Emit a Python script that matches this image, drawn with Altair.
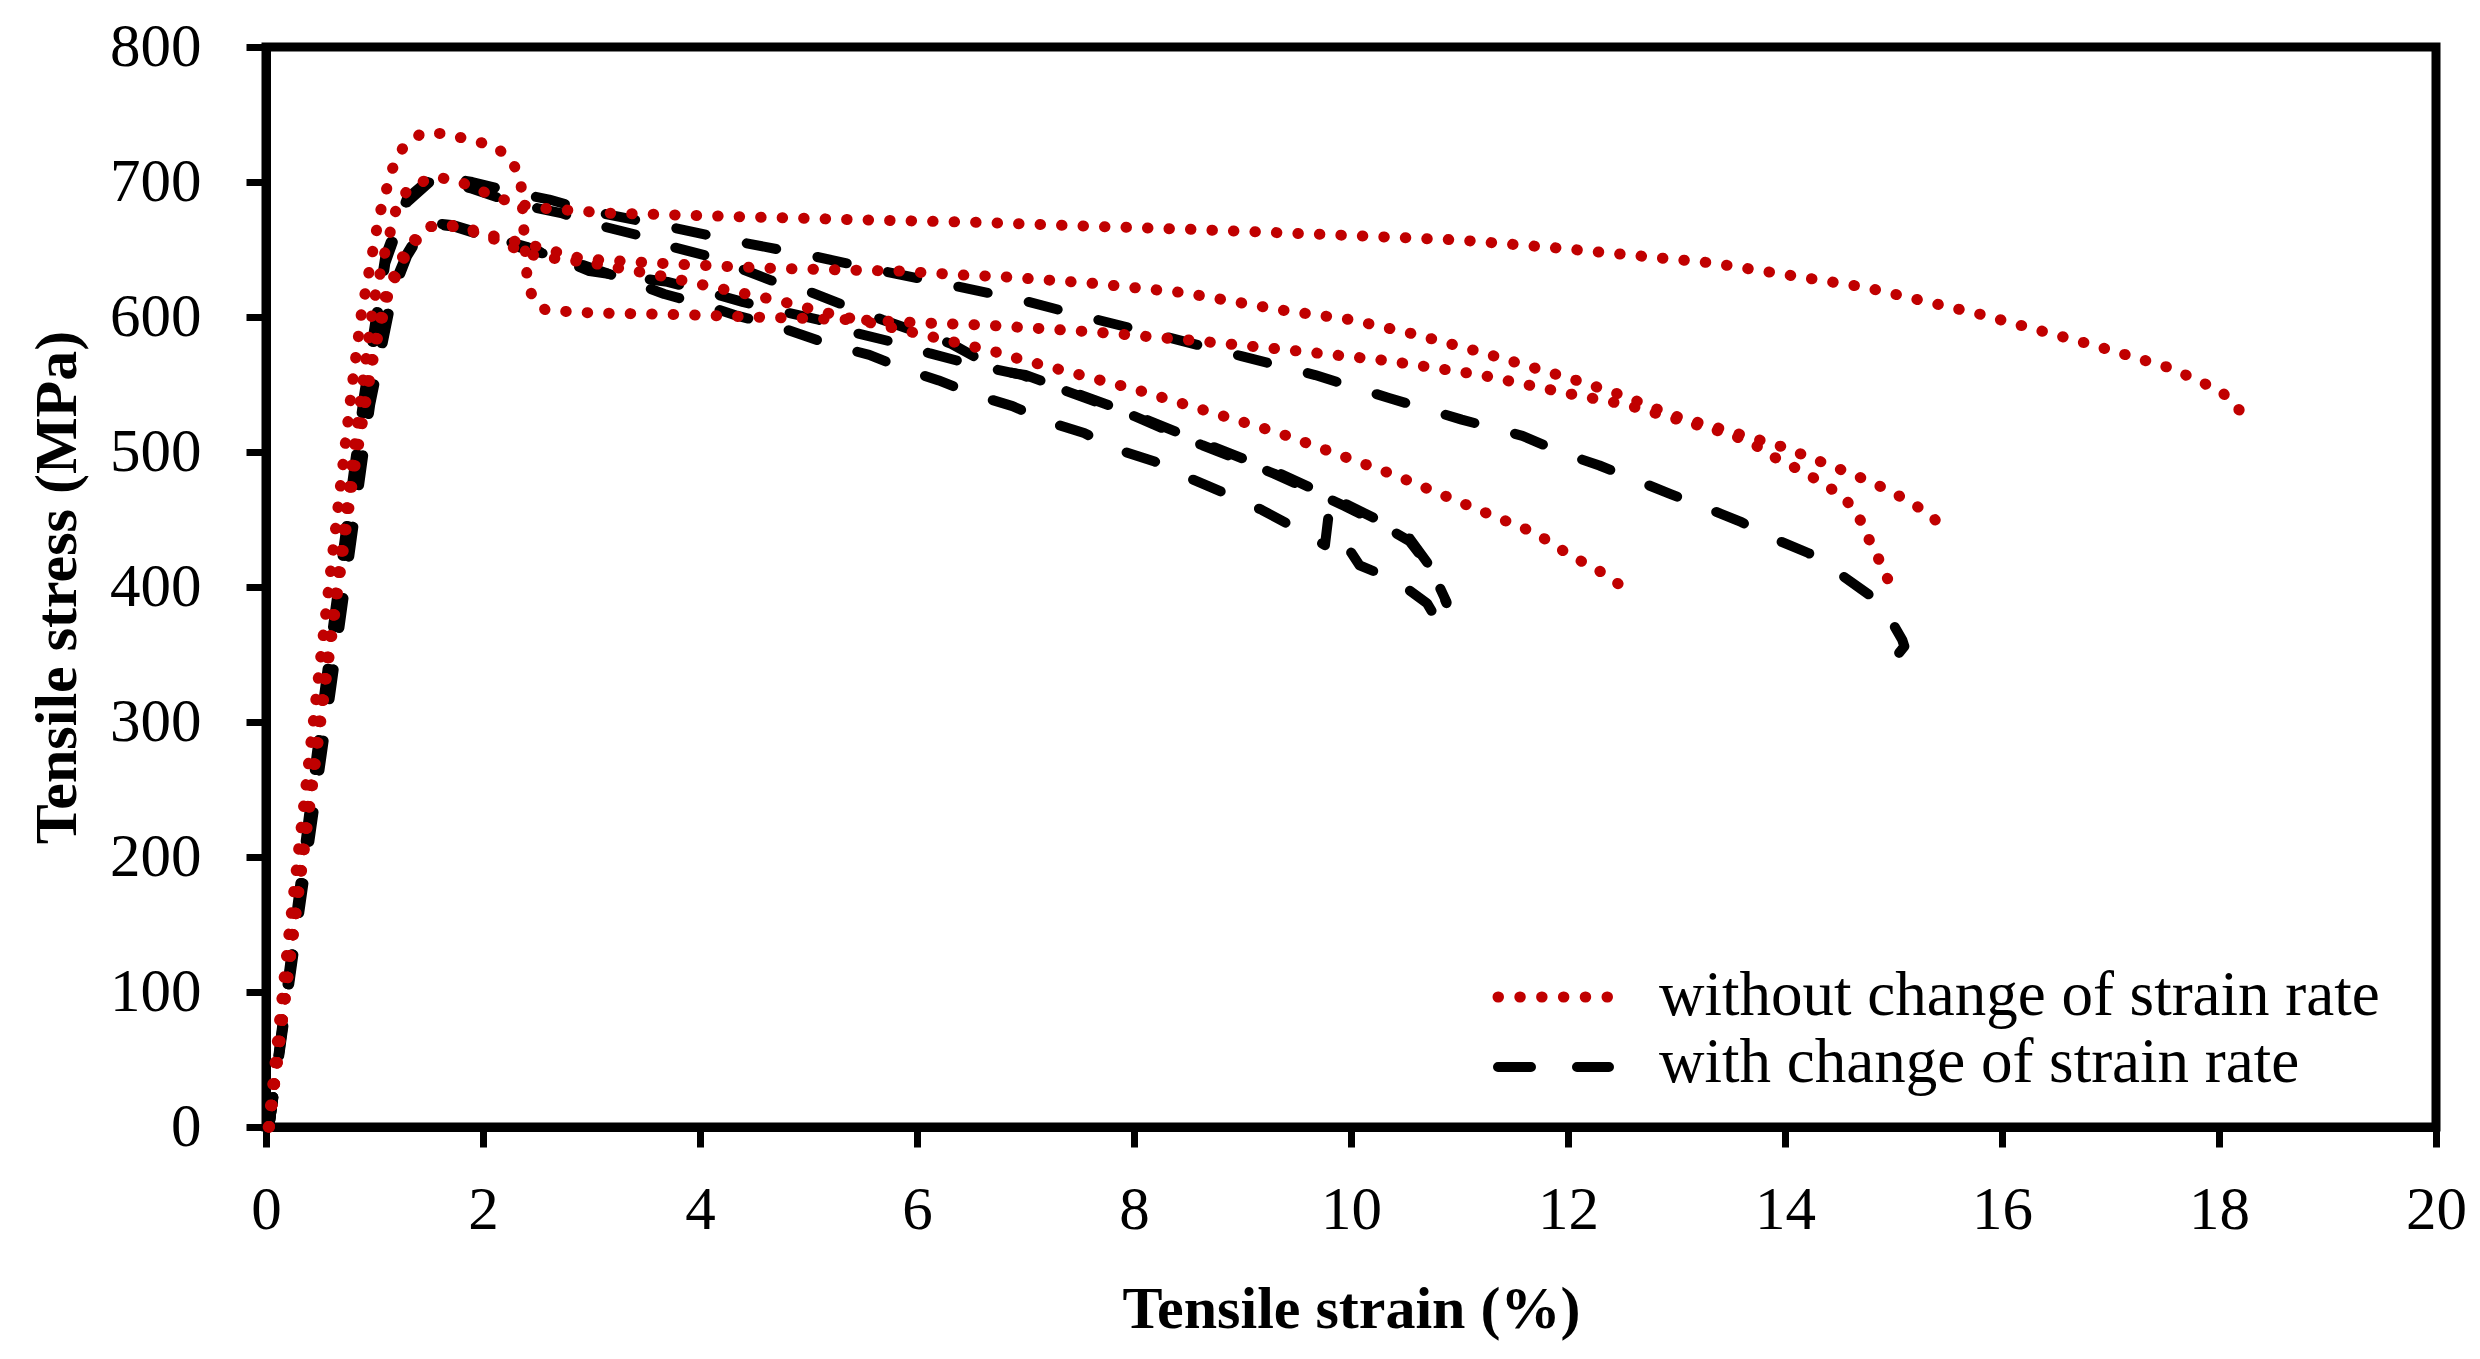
import altair as alt
import pandas as pd

# ---------------- data ----------------
# "without change of strain rate" (red dotted)
R1_x = [0.03, 0.2, 0.4, 0.6, 0.8, 0.9, 0.99, 1.09, 1.2, 1.31, 1.54, 1.76, 1.94, 2.14, 2.47, 3.14, 4.5, 5.5,
        6.62, 7.69, 8.5, 9.8, 11.0, 11.92, 13.33, 14.74, 15.8, 16.85, 17.56, 18.02, 18.2]
R1_y = [0, 110, 240, 365, 495, 556, 610, 646, 680, 695, 704, 701, 695, 688, 681, 677, 674, 672,
        670, 667, 665, 661, 657, 651, 640, 622, 602, 579, 562, 545, 530]

R2_x = [0.02, 0.2, 0.4, 0.6, 0.79, 0.88, 0.96, 1.04, 1.16, 1.26, 1.43, 1.66, 1.88, 2.1, 2.27, 2.35, 2.38,
        2.41, 2.47, 2.58, 3.0, 3.72, 4.5, 5.4, 6.25, 6.63, 7.61, 8.5, 9.37, 10.3, 11.2, 12.08, 12.54,
        12.97, 13.46, 13.69, 13.88, 14.2, 14.54, 14.68, 14.77, 14.88, 14.99]
R2_y = [0, 135, 275, 415, 547, 603, 638, 674, 709, 725, 736, 736, 731, 727, 716, 699, 660,
        625, 612, 605, 603, 602, 600, 598, 595, 594, 589, 583, 576, 568, 557, 542, 535,
        525, 514, 507, 497, 484, 467, 452, 436, 418, 398]

R3_x = [0.03, 0.2, 0.4, 0.6, 0.8, 1.0, 1.1, 1.22, 1.31, 1.5, 1.77, 1.98, 2.2, 2.38, 2.6, 3.0, 3.67, 4.13,
        4.73, 5.12, 5.61, 6.05, 6.73, 6.94, 8.03, 9.34, 10.4, 11.24, 11.7, 12.05, 12.25, 12.47]
R3_y = [0, 115, 245, 370, 490, 580, 615, 634, 650, 667, 667, 661, 655, 647, 644, 640, 630, 622,
        612, 604, 595, 587, 574, 569, 546, 514, 483, 455, 440, 422, 414, 402]

R4_x = [0.03, 0.2, 0.4, 0.6, 0.8, 1.0, 1.15, 1.3, 1.5, 1.77, 2.0, 2.2, 2.5, 2.92, 3.8, 4.68, 5.84, 6.44,
        6.76, 7.61, 8.46, 9.37, 10.0, 10.6, 11.24, 12.08, 12.5, 12.97, 13.46, 13.97, 14.26, 14.64,
        14.95, 15.13, 15.29, 15.5]
R4_y = [0, 110, 235, 360, 480, 575, 625, 652, 667, 668, 662, 658, 652, 643, 639, 636, 634, 631,
        630, 625, 618, 605, 598, 587, 573, 553, 542, 527, 516, 504, 495, 483,
        472, 464, 456, 442]

# "with change of strain rate" (black dashed)
B1_x = [0.03, 0.3, 0.6, 0.9, 1.1, 1.3, 1.55, 1.9, 2.3, 2.61, 2.96, 3.65, 4.34, 5.05, 5.63, 6.23, 6.94,
        7.61, 8.31, 8.99, 9.67, 10.35, 11.02, 11.58, 11.96, 12.29, 12.6, 12.94, 13.26, 13.6, 13.89,
        14.22, 14.5, 14.78, 15.0, 15.08, 15.1, 15.03]
B1_y = [0, 170, 360, 540, 645, 688, 705, 700, 692, 687, 679, 668, 656, 645, 635, 625, 613,
        599, 585, 571, 557, 540, 524, 512, 499, 490, 480, 469, 459, 448, 436,
        425, 410, 394, 372, 361, 356, 349]

B2_x = [0.03, 0.3, 0.6, 0.9, 1.1, 1.3, 1.55, 1.9, 2.3, 2.72, 3.06, 3.41, 3.74, 4.08, 4.66, 5.0, 5.35,
        5.68, 6.0, 6.32, 6.77, 7.0, 7.96, 8.63, 9.29, 9.94, 10.24, 10.54, 10.74, 10.88]
B2_y = [0, 165, 350, 530, 640, 685, 703, 695, 684, 677, 668, 661, 652, 645, 627, 619, 608,
        598, 589, 580, 560, 557, 529, 507, 486, 462, 450, 436, 414, 388]

B3_x = [0.03, 0.3, 0.6, 0.96, 1.17, 1.3, 1.45, 1.61, 1.73, 2.05, 2.4, 2.64, 2.98, 3.7, 4.05, 4.4, 4.76,
        5.09, 5.44, 5.75, 6.12, 6.5, 6.97, 7.96, 8.63, 9.29, 9.94, 10.24, 10.54, 10.74, 10.88]
B3_y = [0, 160, 330, 541, 622, 647, 667, 669, 668, 660, 652, 645, 634, 626, 619, 611, 604,
        598, 588, 582, 573, 565, 557, 528, 505, 484, 460, 448, 434, 413, 389]

B4_x = [0.03, 0.3, 0.6, 0.96, 1.17, 1.3, 1.45, 1.61, 1.73, 2.05, 2.4, 2.72, 3.34, 3.67, 3.99, 4.34, 4.68,
        5.22, 5.56, 5.9, 6.2, 6.55, 6.88, 7.22, 7.54, 7.88, 8.19, 8.53, 8.85, 9.18, 9.48, 9.76, 9.79,
        10.08, 10.41, 10.7, 10.85]
B4_y = [0, 155, 325, 535, 618, 645, 665, 668, 667, 659, 650, 644, 627, 617, 610, 601, 594,
        579, 572, 561, 553, 542, 534, 522, 514, 501, 493, 480, 469, 457, 444, 431, 451,
        416, 405, 388, 368]

X_TICKS = [0, 2, 4, 6, 8, 10, 12, 14, 16, 18, 20]
Y_TICKS = [0, 100, 200, 300, 400, 500, 600, 700, 800]
LEGEND_LABELS = ["without change of strain rate", "with change of strain rate"]

RED = "#C00000"
FONT = "Liberation Serif"


def build(curves):
    rows = []
    for name, (xs, ys) in curves.items():
        for i, (x, y) in enumerate(zip(xs, ys)):
            rows.append({"curve": name, "i": i, "strain": x, "stress": y})
    return pd.DataFrame(rows)


red_df = build({"R1": (R1_x, R1_y), "R2": (R2_x, R2_y), "R3": (R3_x, R3_y), "R4": (R4_x, R4_y)})
black_df = build({"B1": (B1_x, B1_y), "B2": (B2_x, B2_y), "B3": (B3_x, B3_y), "B4": (B4_x, B4_y)})

W, H = 2170, 1080

xscale = alt.Scale(domain=[0, 20], nice=False)
yscale = alt.Scale(domain=[0, 800], nice=False)

common_axis = dict(grid=False, tickSize=20, tickWidth=7, domainWidth=9, domainColor="black",
                   tickColor="black", labelFont=FONT, labelFontSize=61, labelColor="black",
                   labelOverlap=False, labelFlush=False, titleFont=FONT, titleFontSize=60,
                   titleFontWeight="bold", titleColor="black", titleBaseline="alphabetic")

xaxis = alt.Axis(title="Tensile strain (%)", values=X_TICKS, labelPadding=33,
                 titleX=W / 2, titleY=200, **common_axis)
yaxis = alt.Axis(title="Tensile stress (MPa)", values=Y_TICKS, labelPadding=45,
                 titleX=-191, titleY=H / 2, **common_axis)

enc = dict(
    x=alt.X("strain:Q", scale=xscale, axis=xaxis),
    y=alt.Y("stress:Q", scale=yscale, axis=yaxis),
    detail="curve:N",
    order="i:Q",
)

black = alt.Chart(black_df).mark_line(
    color="black", strokeWidth=10, strokeDash=[30, 42], strokeCap="round", strokeJoin="round"
).encode(**enc)

red = alt.Chart(red_df).mark_line(
    color=RED, strokeWidth=11, strokeDash=[0.5, 21], strokeCap="round"
).encode(**enc)

dummy = alt.Data(values=[{"k": 0}])

leg_dot = alt.Chart(dummy).mark_rule(
    color=RED, strokeWidth=11, strokeDash=[0.5, 21.3], strokeCap="round"
).encode(x=alt.value(1232), x2=alt.value(1361), y=alt.value(950))

leg_dash = alt.Chart(dummy).mark_rule(
    color="black", strokeWidth=10, strokeDash=[33, 46], strokeCap="round"
).encode(x=alt.value(1232), x2=alt.value(1343), y=alt.value(1020))

leg_t1 = alt.Chart(dummy).mark_text(
    font=FONT, fontSize=63, align="left", baseline="alphabetic", color="black"
).encode(x=alt.value(1393), y=alt.value(968), text=alt.value(LEGEND_LABELS[0]))

leg_t2 = alt.Chart(dummy).mark_text(
    font=FONT, fontSize=63, align="left", baseline="alphabetic", color="black"
).encode(x=alt.value(1393), y=alt.value(1035), text=alt.value(LEGEND_LABELS[1]))

chart = alt.layer(black, red, leg_dot, leg_dash, leg_t1, leg_t2).properties(
    width=W, height=H,
    autosize=alt.AutoSizeParams(type="none"),
    padding={"left": 258, "top": 39, "right": 30, "bottom": 222},
).configure_view(stroke="black", strokeWidth=9)

chart.save("out.html", embed_options={"renderer": "svg", "actions": False})
